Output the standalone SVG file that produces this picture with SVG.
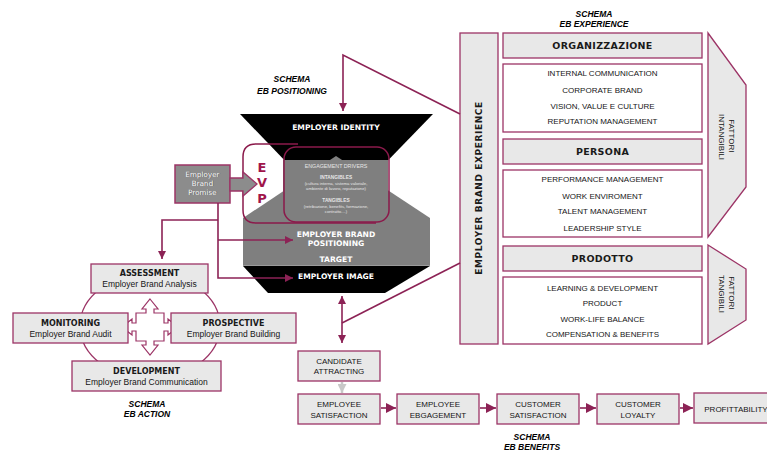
<svg xmlns="http://www.w3.org/2000/svg" width="767" height="453" viewBox="0 0 767 453">
  <style>
    .box { fill: #e8e8e8; stroke: #9c3466; stroke-width: 1.3; }
    .wbox { fill: #ffffff; stroke: #9c3466; stroke-width: 1.3; }
    .conn { fill: none; stroke: #8c2255; stroke-width: 1.6; }
    .bold { font-family: "DejaVu Sans", Verdana, sans-serif; font-weight: bold; fill: #1a1a1a; text-anchor: middle; }
    .reg { font-family: "Liberation Sans", Arial, sans-serif; fill: #151515; text-anchor: middle; }
    .schema { font-family: "Liberation Sans", Arial, sans-serif; font-weight: bold; font-style: italic; font-size: 8.5px; fill: #000; text-anchor: middle; }
    .wt { font-family: "DejaVu Sans", Verdana, sans-serif; font-weight: bold; fill: #ffffff; text-anchor: middle; }
    .evp { font-family: "DejaVu Sans", Verdana, sans-serif; font-weight: bold; fill: #a0144a; font-size: 13px; text-anchor: middle; }
    .drv { font-family: "Liberation Sans", Arial, sans-serif; fill: #e6e6e6; text-anchor: middle; }
  </style>
  <defs>
    <marker id="arr" viewBox="0 0 10 10" refX="10" refY="5" markerWidth="8" markerHeight="8" markerUnits="userSpaceOnUse" orient="auto-start-reverse">
      <path d="M0,0 L10,5 L0,10 z" fill="#8c2255"/>
    </marker>
    <marker id="arrBig" viewBox="0 0 10 10" refX="10" refY="5" markerWidth="10" markerHeight="10" markerUnits="userSpaceOnUse" orient="auto-start-reverse">
      <path d="M0,0 L10,5 L0,10 z" fill="#8c2255"/>
    </marker>
    <marker id="arrGray" viewBox="0 0 10 10" refX="10" refY="5" markerWidth="9" markerHeight="9" markerUnits="userSpaceOnUse" orient="auto">
      <path d="M0,0 L10,5 L0,10 z" fill="#c8c8c8"/>
    </marker>
  </defs>

  <rect width="767" height="453" fill="#ffffff"/>

  <!-- schema titles -->
  <g id="titles">
    <text class="schema" x="292" y="82">SCHEMA</text>
    <text class="schema" x="292" y="94">EB POSITIONING</text>
    <text class="schema" x="594" y="17">SCHEMA</text>
    <text class="schema" x="594" y="27">EB EXPERIENCE</text>
    <text class="schema" x="147" y="407">SCHEMA</text>
    <text class="schema" x="147" y="417">EB ACTION</text>
    <text class="schema" x="532" y="440">SCHEMA</text>
    <text class="schema" x="532" y="450">EB BENEFITS</text>
  </g>

  <!-- positioning funnel -->
  <g id="funnel">
    <polygon points="240,114 433,114 336,214" fill="#000"/>
    <polygon points="243,218 336,156 430,218 430,265 243,265" fill="#7f7f7f"/>
    <rect x="283" y="160" width="105" height="56" fill="#7f7f7f"/>
    <polygon points="243,266 430,266 385,293 268,293" fill="#000"/>
    <line x1="243" y1="265.5" x2="430" y2="265.5" stroke="#9a9a9a" stroke-width="1"/>
    <text class="wt" x="336" y="130" font-size="7.6">EMPLOYER IDENTITY</text>
    <text class="wt" x="336" y="237" font-size="7.6">EMPLOYER BRAND</text>
    <text class="wt" x="336" y="246" font-size="7.6">POSITIONING</text>
    <text class="wt" x="336" y="262" font-size="7.6">TARGET</text>
    <text class="wt" x="336" y="279" font-size="7.6">EMPLOYER IMAGE</text>
  </g>

  <!-- EVP block with engagement drivers -->
  <g id="evp">
    <path d="M298,144 H256 Q243,144 243,157 V210 Q243,223 256,223 H376" fill="none" stroke="#8b1a4b" stroke-width="1.5"/>
    <rect x="284" y="147" width="105" height="75" rx="12" fill="none" stroke="#8b1a4b" stroke-width="1.5"/>
    <text class="evp" x="262" y="171.5">E</text>
    <text class="evp" x="262" y="187">V</text>
    <text class="evp" x="262" y="202.5">P</text>
    <text class="drv" x="336" y="168" font-size="5.3">ENGAGEMENT DRIVERS</text>
    <text class="drv" x="336" y="179" font-size="4.8" font-weight="bold">INTANGIBLES</text>
    <text class="drv" x="336" y="184.5" font-size="4.2">(cultura interna, sistema valoriale,</text>
    <text class="drv" x="336" y="190" font-size="4.2">ambiente di lavoro, reputazione)</text>
    <text class="drv" x="336" y="202" font-size="4.8" font-weight="bold">TANGIBLES</text>
    <text class="drv" x="336" y="207.5" font-size="4.2">(retribuzione, benefits, formazione,</text>
    <text class="drv" x="336" y="213" font-size="4.2">contratto....)</text>
  </g>

  <!-- employer brand promise -->
  <g id="promise">
    <rect x="175" y="165" width="55" height="38" fill="#8c8c8c" stroke="#9c3466" stroke-width="1.5"/>
    <polygon points="230,178 243,178 243,172 257,184 243,196 243,191 230,191" fill="#8c8c8c" stroke="#9c3466" stroke-width="1.3"/>
    <g font-family="'DejaVu Sans', Verdana, sans-serif" font-size="7.2" text-anchor="middle">
      <text x="203" y="177" fill="#444">Employer</text>
      <text x="202.5" y="176.5" fill="#fff">Employer</text>
      <text x="203" y="186" fill="#444">Brand</text>
      <text x="202.5" y="185.5" fill="#fff">Brand</text>
      <text x="203" y="195" fill="#444">Promise</text>
      <text x="202.5" y="194.5" fill="#fff">Promise</text>
    </g>
  </g>

  <!-- EB action cycle -->
  <g id="action-cycle">
    <ellipse cx="150" cy="326" rx="70" ry="53" fill="none" stroke="#9c3466" stroke-width="1.3"/>
    <path d="M150,299 L158,309 L154,309 L154,313 L164,313 L164,323 L168,323 L168,319 L178,327 L168,335 L168,331 L164,331 L164,341 L154,341 L154,345 L158,345 L150,355 L142,345 L146,345 L146,341 L136,341 L136,331 L132,331 L132,335 L122,327 L132,319 L132,323 L136,323 L136,313 L146,313 L146,309 L142,309 Z" fill="#ffffff" stroke="#9c3466" stroke-width="1.2"/>
  </g>
  <g id="assessment">
    <rect class="box" x="91" y="264" width="117" height="29"/>
    <text class="bold" x="149.5" y="276" font-size="8">ASSESSMENT</text>
    <text class="reg" x="149.5" y="287" font-size="8.5">Employer Brand Analysis</text>
  </g>
  <g id="monitoring">
    <rect class="box" x="13" y="313" width="115" height="30"/>
    <text class="bold" x="70.5" y="326" font-size="8">MONITORING</text>
    <text class="reg" x="70.5" y="337" font-size="8.5">Employer Brand Audit</text>
  </g>
  <g id="prospective">
    <rect class="box" x="171" y="313" width="125" height="30"/>
    <text class="bold" x="233.5" y="326" font-size="8">PROSPECTIVE</text>
    <text class="reg" x="233.5" y="337" font-size="8.5">Employer Brand Building</text>
  </g>
  <g id="development">
    <rect class="box" x="72" y="361" width="149" height="30"/>
    <text class="bold" x="146.5" y="374" font-size="8">DEVELOPMENT</text>
    <text class="reg" x="146.5" y="385" font-size="8.5">Employer Brand Communication</text>
  </g>

  <!-- EB experience panel -->
  <g id="eb-experience">
    <rect class="box" x="460" y="33" width="38" height="311"/>
    <text class="bold" transform="translate(479,188) rotate(-90)" x="0" y="3.3" font-size="9" letter-spacing="0.6">EMPLOYER BRAND EXPERIENCE</text>
  </g>
  <g id="organizzazione">
    <rect class="box" x="503" y="33" width="199" height="25"/>
    <text class="bold" x="602.5" y="49" font-size="9.5" letter-spacing="0.3">ORGANIZZAZIONE</text>
    <rect class="wbox" x="503" y="64" width="199" height="68"/>
    <text class="reg" x="602.5" y="76" font-size="8">INTERNAL COMMUNICATION</text>
    <text class="reg" x="602.5" y="92.5" font-size="8">CORPORATE BRAND</text>
    <text class="reg" x="602.5" y="108.5" font-size="8">VISION, VALUE E CULTURE</text>
    <text class="reg" x="602.5" y="124" font-size="8">REPUTATION MANAGEMENT</text>
  </g>
  <g id="persona">
    <rect class="box" x="503" y="139" width="199" height="25"/>
    <text class="bold" x="602.5" y="155" font-size="9.5" letter-spacing="0.3">PERSONA</text>
    <rect class="wbox" x="503" y="170" width="199" height="67"/>
    <text class="reg" x="602.5" y="182" font-size="8">PERFORMANCE MANAGEMENT</text>
    <text class="reg" x="602.5" y="198.5" font-size="8">WORK ENVIROMENT</text>
    <text class="reg" x="602.5" y="214" font-size="8">TALENT MANAGEMENT</text>
    <text class="reg" x="602.5" y="230.5" font-size="8">LEADERSHIP STYLE</text>
  </g>
  <g id="prodotto">
    <rect class="box" x="503" y="246" width="199" height="25"/>
    <text class="bold" x="602.5" y="262" font-size="9.5" letter-spacing="0.3">PRODOTTO</text>
    <rect class="wbox" x="503" y="277" width="199" height="67"/>
    <text class="reg" x="602.5" y="290.5" font-size="8">LEARNING &amp; DEVELOPMENT</text>
    <text class="reg" x="602.5" y="306" font-size="8">PRODUCT</text>
    <text class="reg" x="602.5" y="321.5" font-size="8">WORK-LIFE BALANCE</text>
    <text class="reg" x="602.5" y="337" font-size="8">COMPENSATION &amp; BENEFITS</text>
  </g>
  <g id="fattori-intangibili">
    <polygon class="box" points="708,33 746,85 746,187 708,237"/>
    <text class="reg" transform="translate(727,137) rotate(90)" font-size="8">
      <tspan x="0" y="-2.2">FATTORI</tspan>
      <tspan x="0" y="7.8">INTANGIBILI</tspan>
    </text>
  </g>
  <g id="fattori-tangibili">
    <polygon class="box" points="708,245 746,269 746,320 708,344"/>
    <text class="reg" transform="translate(727,294) rotate(90)" font-size="8">
      <tspan x="0" y="-2.2">FATTORI</tspan>
      <tspan x="0" y="7.8">TANGIBILI</tspan>
    </text>
  </g>

  <!-- EB benefits chain -->
  <g id="candidate">
    <rect class="box" x="298" y="351" width="82" height="30"/>
    <text class="reg" x="339" y="364" font-size="8">CANDIDATE</text>
    <text class="reg" x="339" y="374" font-size="8">ATTRACTING</text>
  </g>
  <g id="employee-satisfaction">
    <rect class="box" x="298" y="394" width="82" height="30"/>
    <text class="reg" x="339" y="406.5" font-size="8">EMPLOYEE</text>
    <text class="reg" x="339" y="417.5" font-size="8">SATISFACTION</text>
  </g>
  <g id="employee-engagement">
    <rect class="box" x="397" y="394" width="82" height="30"/>
    <text class="reg" x="438" y="406.5" font-size="8">EMPLOYEE</text>
    <text class="reg" x="438" y="417.5" font-size="8">EBGAGEMENT</text>
  </g>
  <g id="customer-satisfaction">
    <rect class="box" x="497" y="394" width="82" height="30"/>
    <text class="reg" x="538" y="406.5" font-size="8">CUSTOMER</text>
    <text class="reg" x="538" y="417.5" font-size="8">SATISFACTION</text>
  </g>
  <g id="customer-loyalty">
    <rect class="box" x="597" y="394" width="82" height="30"/>
    <text class="reg" x="638" y="406.5" font-size="8">CUSTOMER</text>
    <text class="reg" x="638" y="417.5" font-size="8">LOYALTY</text>
  </g>
  <g id="profittability">
    <rect class="box" x="694" y="393" width="80" height="30"/>
    <text class="reg" x="736" y="412" font-size="8">PROFITTABILITY</text>
  </g>

  <!-- connectors -->
  <g id="connectors">
    <polyline class="conn" points="460,114 343,55 343,111" marker-end="url(#arr)"/>
    <line class="conn" x1="342" y1="296" x2="342" y2="343" marker-start="url(#arr)" marker-end="url(#arr)"/>
    <line class="conn" x1="342" y1="323" x2="460" y2="263"/>
    <polyline class="conn" points="218,203 218,278 293,278" marker-end="url(#arr)"/>
    <line class="conn" x1="218" y1="240" x2="293" y2="240" marker-end="url(#arr)"/>
    <polyline class="conn" points="218,220 162,220 162,259" marker-end="url(#arr)"/>
    <line x1="342" y1="382" x2="342" y2="393" stroke="#c8c8c8" stroke-width="2.5" marker-end="url(#arrGray)"/>
    <line class="conn" x1="381" y1="408" x2="396" y2="408" stroke-width="3" marker-end="url(#arrBig)"/>
    <line class="conn" x1="480" y1="408" x2="496" y2="408" stroke-width="3" marker-end="url(#arrBig)"/>
    <line class="conn" x1="580" y1="408" x2="596" y2="408" stroke-width="3" marker-end="url(#arrBig)"/>
    <line class="conn" x1="680" y1="408" x2="693" y2="408" stroke-width="3" marker-end="url(#arrBig)"/>
  </g>
</svg>
